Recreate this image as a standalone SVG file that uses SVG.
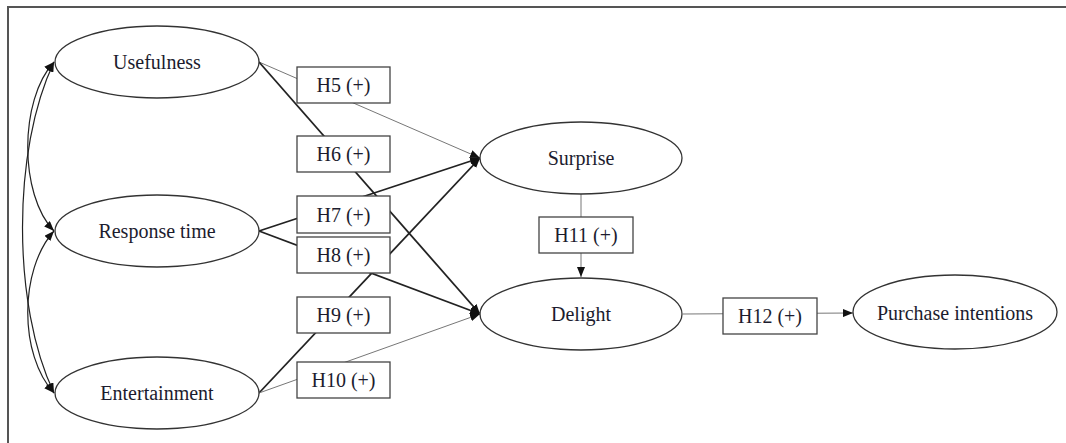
<svg xmlns="http://www.w3.org/2000/svg" width="1066" height="443" viewBox="0 0 1066 443">
<defs>
<marker id="ah" viewBox="0 0 10 8" refX="10" refY="4" markerWidth="10" markerHeight="8" markerUnits="userSpaceOnUse" orient="auto-start-reverse">
<path d="M0,0 L10,4 L0,8 z" fill="#111"/>
</marker>
<style>
.ell{fill:#fff;stroke:#333;stroke-width:1.3}
.box{fill:#fff;stroke:#444;stroke-width:1.3}
.t{font-family:"Liberation Serif","Times New Roman",serif;font-size:20px;fill:#1c1c2e;text-anchor:middle;dominant-baseline:central}
.thin{stroke:#777;stroke-width:1;fill:none}
.thick{stroke:#222;stroke-width:1.8;fill:none}
.cov{stroke:#222;stroke-width:1.2;fill:none}
</style>
</defs>
<rect width="1066" height="443" fill="#fff"/>
<path d="M8,443 L8,7 L1066,7" fill="none" stroke="#555" stroke-width="2"/>
<g id="connectors">
<path class="cov" d="M54,62 C19,100 19,195 54,231" marker-start="url(#ah)" marker-end="url(#ah)"/>
<path class="cov" d="M54,62 C12,150 12,305 54,393" marker-start="url(#ah)" marker-end="url(#ah)"/>
<path class="cov" d="M54,231 C19,270 19,355 54,393" marker-start="url(#ah)" marker-end="url(#ah)"/>
<path class="thin" d="M259,62 L480,158" marker-end="url(#ah)"/>
<path class="thick" d="M259,62 L480,314" marker-end="url(#ah)"/>
<path class="thick" d="M259,231 L480,158" marker-end="url(#ah)"/>
<path class="thick" d="M259,231 L480,314" marker-end="url(#ah)"/>
<path class="thick" d="M259,393 L480,158" marker-end="url(#ah)"/>
<path class="thin" d="M259,393 L480,314" marker-end="url(#ah)"/>
<path class="thin" d="M581,194 L581,277" marker-end="url(#ah)"/>
<path class="thin" d="M683,314 L853,313" marker-end="url(#ah)"/>
</g>
<g id="usefulness"><ellipse class="ell" cx="157" cy="62" rx="102" ry="36"/><text class="t" x="157" y="62">Usefulness</text></g>
<g id="response-time"><ellipse class="ell" cx="157" cy="231" rx="102" ry="36"/><text class="t" x="157" y="231">Response time</text></g>
<g id="entertainment"><ellipse class="ell" cx="157" cy="393" rx="102" ry="36"/><text class="t" x="157" y="393">Entertainment</text></g>
<g id="surprise"><ellipse class="ell" cx="581" cy="158" rx="101" ry="36"/><text class="t" x="581" y="158">Surprise</text></g>
<g id="delight"><ellipse class="ell" cx="581" cy="314" rx="101" ry="36"/><text class="t" x="581" y="314">Delight</text></g>
<g id="purchase-intentions"><ellipse class="ell" cx="955" cy="312" rx="102" ry="37"/><text class="t" x="955" y="313">Purchase intentions</text></g>
<g id="h5"><rect class="box" x="297" y="67" width="93" height="36"/><text class="t" x="343.5" y="85">H5 (+)</text></g>
<g id="h6"><rect class="box" x="297" y="136" width="93" height="36"/><text class="t" x="343.5" y="154">H6 (+)</text></g>
<g id="h7"><rect class="box" x="297" y="196" width="93" height="37"/><text class="t" x="343.5" y="214.5">H7 (+)</text></g>
<g id="h8"><rect class="box" x="297" y="237" width="93" height="36"/><text class="t" x="343.5" y="255">H8 (+)</text></g>
<g id="h9"><rect class="box" x="297" y="297" width="93" height="36"/><text class="t" x="343.5" y="315">H9 (+)</text></g>
<g id="h10"><rect class="box" x="297" y="362" width="93" height="36"/><text class="t" x="343.5" y="380">H10 (+)</text></g>
<g id="h11"><rect class="box" x="539" y="217" width="94" height="36"/><text class="t" x="586" y="235">H11 (+)</text></g>
<g id="h12"><rect class="box" x="723" y="298" width="94" height="36"/><text class="t" x="770" y="316">H12 (+)</text></g>
</svg>
